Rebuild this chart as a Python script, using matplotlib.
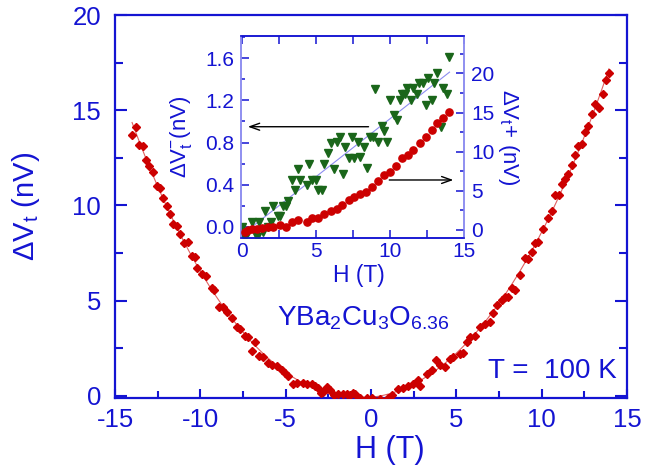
import numpy as np
import matplotlib
matplotlib.use("Agg")
import matplotlib.pyplot as plt
from matplotlib.ticker import MultipleLocator

plt.rcParams['font.family'] = ['Liberation Sans', 'DejaVu Sans']
plt.rcParams['mathtext.fontset'] = 'custom'
plt.rcParams['mathtext.rm'] = 'Liberation Sans'
plt.rcParams['mathtext.it'] = 'Liberation Sans'
plt.rcParams['mathtext.bf'] = 'Liberation Sans:bold'
plt.rcParams['axes.unicode_minus'] = False

# ---------------- data ----------------
# main panel: H (T) and Delta V_t (nV)
main_H = [-14.00, -13.77, -13.59, -13.36, -13.18, -13.01, -12.77, -12.54, -12.36, -12.19,
          -11.95, -11.78, -11.60, -11.37, -11.19, -10.96, -10.72, -10.49, -10.31, -10.20,
          -9.90, -9.67, -9.32, -9.20, -8.91, -8.67, -8.44, -8.15, -7.85, -7.68,
          -7.38, -7.21, -6.97, -6.80, -6.56, -6.33, -6.04, -5.80, -5.51, -5.22,
          -5.04, -4.87, -4.57, -4.34, -3.99, -3.75, -3.46, -3.28, -3.11, -2.93,
          -2.82, -2.58, -2.41, -2.17, -1.94, -1.64, -1.41, -1.23, -1.06, -0.94,
          -0.65, -0.24, 0.06, 0.52, 0.99, 1.23, 1.58, 1.87, 2.16, 2.46,
          2.75, 2.87, 3.28, 3.57, 3.80, 4.04, 4.33, 4.62, 4.80, 5.21,
          5.39, 5.62, 5.80, 6.09, 6.38, 6.67, 6.97, 7.14, 7.38, 7.67,
          7.85, 8.02, 8.26, 8.43, 8.72, 9.02, 9.19, 9.43, 9.60, 9.78,
          10.07, 10.37, 10.60, 10.78, 11.01, 11.19, 11.36, 11.54, 11.77, 11.95,
          12.12, 12.36, 12.53, 12.71, 12.94, 13.12, 13.35, 13.59, 13.76, 13.94]
main_V = [13.72, 14.10, 13.19, 13.14, 12.39, 12.07, 11.76, 11.01, 10.90, 10.37,
          9.95, 9.57, 9.04, 8.94, 8.51, 8.03, 8.08, 7.34, 7.29, 6.70,
          6.38, 6.28, 5.64, 5.53, 4.68, 4.68, 4.41, 4.10, 3.62, 3.51,
          3.14, 3.09, 2.34, 2.82, 2.07, 2.02, 1.70, 1.60, 1.54, 1.33,
          1.17, 1.01, 0.64, 0.69, 0.69, 0.59, 0.59, 0.53, 0.43, 0.16,
          0.21, 0.48, 0.32, 0.05, 0.11, 0.11, 0.11, 0.05, 0.16, 0.11,
          -0.11, -0.11, -0.11, -0.16, -0.11, 0.05, 0.37, 0.43, 0.53, 0.64,
          0.80, 0.53, 1.12, 1.33, 1.86, 1.60, 1.49, 1.91, 2.02, 2.18,
          2.23, 2.82, 3.09, 3.14, 3.62, 3.78, 3.88, 4.36, 4.79, 5.05,
          5.21, 5.21, 5.64, 5.53, 6.33, 7.23, 7.18, 7.55, 8.03, 8.08,
          8.78, 9.36, 9.68, 10.53, 10.53, 11.12, 11.38, 11.65, 12.13, 12.66,
          13.14, 13.24, 13.83, 14.15, 14.79, 15.32, 15.11, 15.85, 16.60, 16.97]

# inset: antisymmetric part Delta V_t^- (nV), left axis
minus_H = [0.00, 0.16, 0.42, 0.69, 0.98, 1.15, 1.37, 1.55, 1.77, 1.95,
           2.11, 2.40, 2.56, 2.78, 2.94, 3.12, 3.34, 3.57, 3.75, 3.91,
           4.35, 4.51, 4.74, 4.96, 5.14, 5.36, 5.55, 5.77, 6.00, 6.17,
           6.37, 6.58, 6.78, 6.96, 7.18, 7.40, 7.57, 7.79, 7.97, 8.19,
           8.42, 8.60, 8.83, 8.98, 9.20, 9.43, 9.59, 9.81, 9.99, 10.22,
           10.44, 10.67, 10.78, 11.00, 11.16, 11.39, 11.56, 11.79, 11.97, 12.20,
           12.42, 12.57, 12.80, 12.96, 13.18, 13.41, 13.58, 13.81, 13.99]
minus_V = [0.000, -0.095, -0.048, 0.048, -0.095, 0.048, -0.048, 0.152, 0.000, 0.048,
           0.197, 0.102, 0.102, 0.197, 0.197, 0.247, 0.444, 0.349, 0.545, 0.444,
           0.396, 0.596, 0.444, 0.444, 0.349, 0.349, 0.596, 0.703, 0.798, 0.550,
           0.805, 0.855, 0.501, 0.754, 0.655, 0.855, 0.655, 0.808, 0.659, 0.754,
           0.555, 0.855, 0.855, 1.305, 0.808, 0.957, 0.912, 0.808, 1.204, 1.061,
           1.014, 1.204, 1.261, 1.261, 1.315, 1.204, 1.315, 1.261, 1.362, 1.362,
           1.156, 1.410, 1.204, 1.362, 1.458, 0.950, 1.315, 1.261, 1.610]

# inset: symmetric part Delta V_t^+ (nV), right axis
plus_H = [0.16, 0.42, 0.69, 0.98, 1.32, 1.73, 2.11, 2.56, 2.94, 3.34,
          3.75, 4.35, 4.74, 5.14, 5.55, 6.00, 6.37, 6.76, 7.18, 7.57,
          7.97, 8.38, 8.76, 9.20, 9.59, 9.99, 10.40, 10.78, 11.18, 11.56,
          12.01, 12.42, 12.80, 13.18, 13.58, 13.99]
plus_V = [-0.22, 0.00, 0.09, 0.09, 0.22, 0.34, 0.42, 0.64, 0.34, 0.98,
          1.28, 1.06, 1.49, 1.57, 2.04, 2.43, 2.68, 3.19, 3.83, 4.25,
          4.60, 4.89, 5.45, 6.26, 7.02, 7.37, 8.17, 9.15, 9.57, 10.21,
          11.15, 11.83, 12.77, 13.62, 14.26, 15.10]

BLUE = '#1414D2'
RED = '#CC0000'
GREEN = '#1A661A'

fig = plt.figure(figsize=(6.55, 4.65), dpi=100)

# ---------------- main axes ----------------
ax = fig.add_axes([0.1756, 0.1441, 0.7817, 0.8236])
hm = np.array(main_H); vm = np.array(main_V)
coef = np.polyfit(hm, vm, 4)
hh = np.linspace(hm.min(), hm.max(), 300)
ax.plot(hh, np.polyval(coef, hh), color='#E06060', lw=0.8, zorder=2)
ax.plot(hm, vm, ls='none', marker='D', ms=4.4, color=RED, mec=RED, zorder=3)
ax.set_xlim(-15, 15)
ax.set_ylim(-0.12, 20)
ax.xaxis.set_major_locator(MultipleLocator(5))
ax.xaxis.set_minor_locator(MultipleLocator(2.5))
ax.yaxis.set_major_locator(MultipleLocator(5))
ax.yaxis.set_minor_locator(MultipleLocator(2.5))
for s in ax.spines.values():
    s.set_color(BLUE); s.set_linewidth(1.6)
ax.tick_params(axis='both', which='both', direction='in', colors=BLUE,
               labelcolor=BLUE, width=1.5, top=False, right=True)
ax.tick_params(axis='x', which='major', length=6.5, pad=7, labelsize=18.5)
ax.tick_params(axis='x', which='minor', length=5)
ax.tick_params(axis='y', which='major', length=8.5, pad=10, labelsize=18.5)
ax.tick_params(axis='y', which='minor', length=6)
ax.text(0.537, -0.097, 'H (T)', transform=ax.transAxes, ha='center', va='top',
        fontsize=22, color=BLUE)
ax.text(-0.174, 0.5, r'$\mathregular{\Delta V_t}$ (nV)', transform=ax.transAxes,
        ha='center', va='center', rotation=90, fontsize=21, color=BLUE)
fig.text(0.423, 0.301, r'$\mathregular{YBa_2Cu_3O_{6.36}}$', ha='left',
         va='baseline', fontsize=20, color=BLUE)
fig.text(0.745, 0.187, 'T =  100 K', ha='left', va='baseline', fontsize=20,
         color=BLUE)

# ---------------- inset ----------------
axi = fig.add_axes([0.3687, 0.4882, 0.3402, 0.4344])
axi.set_facecolor('white')
hmi = np.array(minus_H); vmi = np.array(minus_V)
c1 = np.polyfit(hmi, vmi, 1)
hl = np.linspace(0.3, 14.0, 50)
axi.plot(hl, np.polyval(c1, hl), color='#8C8CF0', lw=0.8, zorder=2)
axi.plot(hmi, vmi, ls='none', marker='v', ms=6, color=GREEN, mec=GREEN, zorder=3)
axi.set_xlim(-0.05, 15)
axi.set_ylim(-0.107, 1.812)
axi.xaxis.set_major_locator(MultipleLocator(5))
axi.xaxis.set_minor_locator(MultipleLocator(2.5))
axi.yaxis.set_major_locator(MultipleLocator(0.4))
axi.yaxis.set_minor_locator(MultipleLocator(0.2))
axi.yaxis.set_major_formatter(matplotlib.ticker.FormatStrFormatter('%.1f'))

axr = axi.twinx()
axr.plot(plus_H, plus_V, ls='none', marker='o', ms=5.2, color=RED, mec=RED, zorder=3)
axr.set_ylim(-1.02, 24.77)
axr.yaxis.set_major_locator(MultipleLocator(5))
axr.yaxis.set_minor_locator(MultipleLocator(2.5))

for a in (axi, axr):
    for k, s in a.spines.items():
        s.set_linewidth(1.1)
        s.set_color(BLUE if k in ('top', 'bottom') else '#8C8CF0')
axi.tick_params(axis='x', which='both', direction='in', colors=BLUE, top=True,
                length=5.5, width=1.1, labelsize=15, pad=3)
axi.tick_params(axis='y', which='major', direction='in', colors=BLUE,
                length=5.5, width=1.1, labelsize=15, pad=5)
axi.tick_params(axis='y', which='minor', direction='in', colors=BLUE,
                length=3, width=1.1)
axr.tick_params(axis='y', which='major', direction='in', colors=BLUE,
                length=5.5, width=1.1, labelsize=15, pad=5)
axr.tick_params(axis='y', which='minor', direction='in', colors=BLUE,
                length=3, width=1.1)

axi.text(0.527, -0.13, 'H (T)', transform=axi.transAxes, ha='center', va='top',
         fontsize=16.5, color=BLUE)
axi.text(-0.27, 0.5, r'$\mathregular{\Delta V_t^{-}}$(nV)', transform=axi.transAxes,
         ha='center', va='center', rotation=90, fontsize=16, color=BLUE)
axr.text(1.2, 0.5, r'$\mathregular{\Delta V_t}$+ (nV)', transform=axi.transAxes,
         ha='center', va='center', rotation=-90, fontsize=16, color=BLUE)

# arrows
axr.annotate('', xy=(0.38, 0.95), xytext=(8.53, 0.95),
             xycoords=axi.transData, textcoords=axi.transData,
             arrowprops=dict(arrowstyle='->,head_length=0.7,head_width=0.25',
                             color='black', lw=1.0, shrinkA=0, shrinkB=0))
axr.annotate('', xy=(14.26, 0.444), xytext=(9.93, 0.444),
             xycoords=axi.transData, textcoords=axi.transData,
             arrowprops=dict(arrowstyle='->,head_length=0.7,head_width=0.25',
                             color='black', lw=1.0, shrinkA=0, shrinkB=0))

fig.savefig('out.png', dpi=100)
